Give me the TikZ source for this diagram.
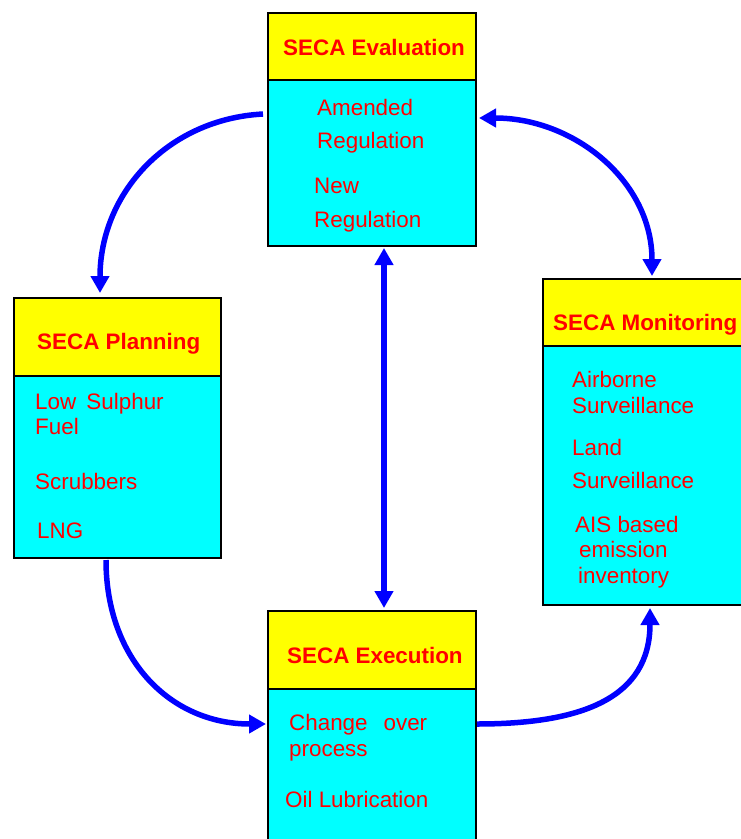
\documentclass[tikz,border=0pt]{standalone}
\usepackage{fontspec}
\setmainfont{Liberation Sans}
\usepackage{tikz}
\usetikzlibrary{arrows.meta,positioning}
\definecolor{hdyellow}{RGB}{255,255,0}
\definecolor{bdcyan}{RGB}{0,255,255}
\definecolor{txtred}{RGB}{255,0,0}
\definecolor{arrblue}{RGB}{0,0,255}
\tikzstyle{head}=[rectangle,draw=black,line width=2.5pt,fill=hdyellow,
inner sep=0pt,outer sep=0pt,anchor=north west]
\tikzstyle{body}=[rectangle,draw=black,line width=2.5pt,fill=bdcyan,
inner sep=0pt,outer sep=0pt,anchor=north west]
\tikzstyle{title}=[inner sep=0pt,anchor=base west,text=txtred,
font=\fontsize{22.4}{26}\selectfont\bfseries]
\tikzstyle{item}=[inner sep=0pt,anchor=base west,text=txtred,
font=\fontsize{22.4}{26}\selectfont]
\tikzstyle{flow}=[draw=arrblue,line width=5.5pt,
arrows={-Triangle[length=17pt,width=18pt]}]
\tikzstyle{dflow}=[draw=arrblue,line width=5.5pt,
arrows={Triangle[length=17pt,width=18pt]-Triangle[length=17pt,width=18pt]}]

\begin{document}
\begin{tikzpicture}[x=1pt,y=-1pt]
			\useasboundingbox (0,0) rectangle (741,839);

			% Evaluation part
			\node[head,minimum width=208pt,minimum height=67pt] (evalhead) at (268,13) {};
			\node[body,minimum width=208pt,minimum height=166pt] (evalbody) at (268,80) {};
			\node[title] (evaltitle) at (283,55) {SECA Evaluation};
			\node[item] (eval1) at (317,115) {Amended};
			\node[item] (eval2) at (317,148) {Regulation};
			\node[item] (eval3) at (314,193) {New};
			\node[item] (eval4) at (314,227) {Regulation};

			% Planning part
			\node[head,minimum width=207pt,minimum height=78pt] (planhead) at (14,298) {};
			\node[body,minimum width=207pt,minimum height=182pt] (planbody) at (14,376) {};
			\node[title] (plantitle) at (37,349) {SECA Planning};
			\node[item] (plan1) at (35,409) {Low\hspace{4pt} Sulphur};
			\node[item] (plan2) at (35,434) {Fuel};
			\node[item] (plan3) at (35,489) {Scrubbers};
			\node[item] (plan4) at (37,538) {LNG};

			% Monitoring part
			\node[head,minimum width=202pt,minimum height=67pt] (monhead) at (543,279) {};
			\node[body,minimum width=202pt,minimum height=259pt] (monbody) at (543,346) {};
			\node[title] (montitle) at (553,330) {SECA Monitoring};
			\node[item] (mon1) at (572,387) {Airborne};
			\node[item] (mon2) at (572,413) {Surveillance};
			\node[item] (mon3) at (572,455) {Land};
			\node[item] (mon4) at (572,488) {Surveillance};
			\node[item] (mon5) at (575,532) {AIS based};
			\node[item] (mon6) at (579,557) {emission};
			\node[item] (mon7) at (578,583) {inventory};

			% Execution part
			\node[head,minimum width=208pt,minimum height=78pt] (exechead) at (268,611) {};
			\node[body,minimum width=208pt,minimum height=161pt] (execbody) at (268,689) {};
			\node[title] (exectitle) at (287,663) {SECA Execution};
			\node[item] (exec1) at (289,730) {Change\hspace{16pt}over};
			\node[item] (exec2) at (289,756) {process};
			\node[item] (exec3) at (285,807) {Oil Lubrication};

			% Relations between phases
			\path[flow] ([xshift=-5pt,yshift=-34pt]evalbody.north west)
				.. controls +(-95,5) and +(0,-100) .. ([xshift=86pt,yshift=5pt]planhead.north west);
			\path[dflow] ([xshift=3pt,yshift=-38pt]evalbody.north east)
				.. controls +(95,0) and +(0,-95) .. ([xshift=109pt,yshift=3pt]monhead.north west);
			\path[dflow] ([xshift=116pt,yshift=-2pt]evalbody.south west)
				-- ([xshift=116pt,yshift=3pt]exechead.north west);
			\path[flow] ([xshift=92pt,yshift=-2pt]planbody.south west)
				.. controls +(0,100) and +(-95,0) .. ([xshift=-2pt,yshift=-35pt]execbody.north west);
			\path[flow] ([xshift=1pt,yshift=-35pt]execbody.north east)
				.. controls +(105,0) and +(0,90) .. ([xshift=107pt,yshift=-3pt]monbody.south west);
		\end{tikzpicture}
\end{document}
